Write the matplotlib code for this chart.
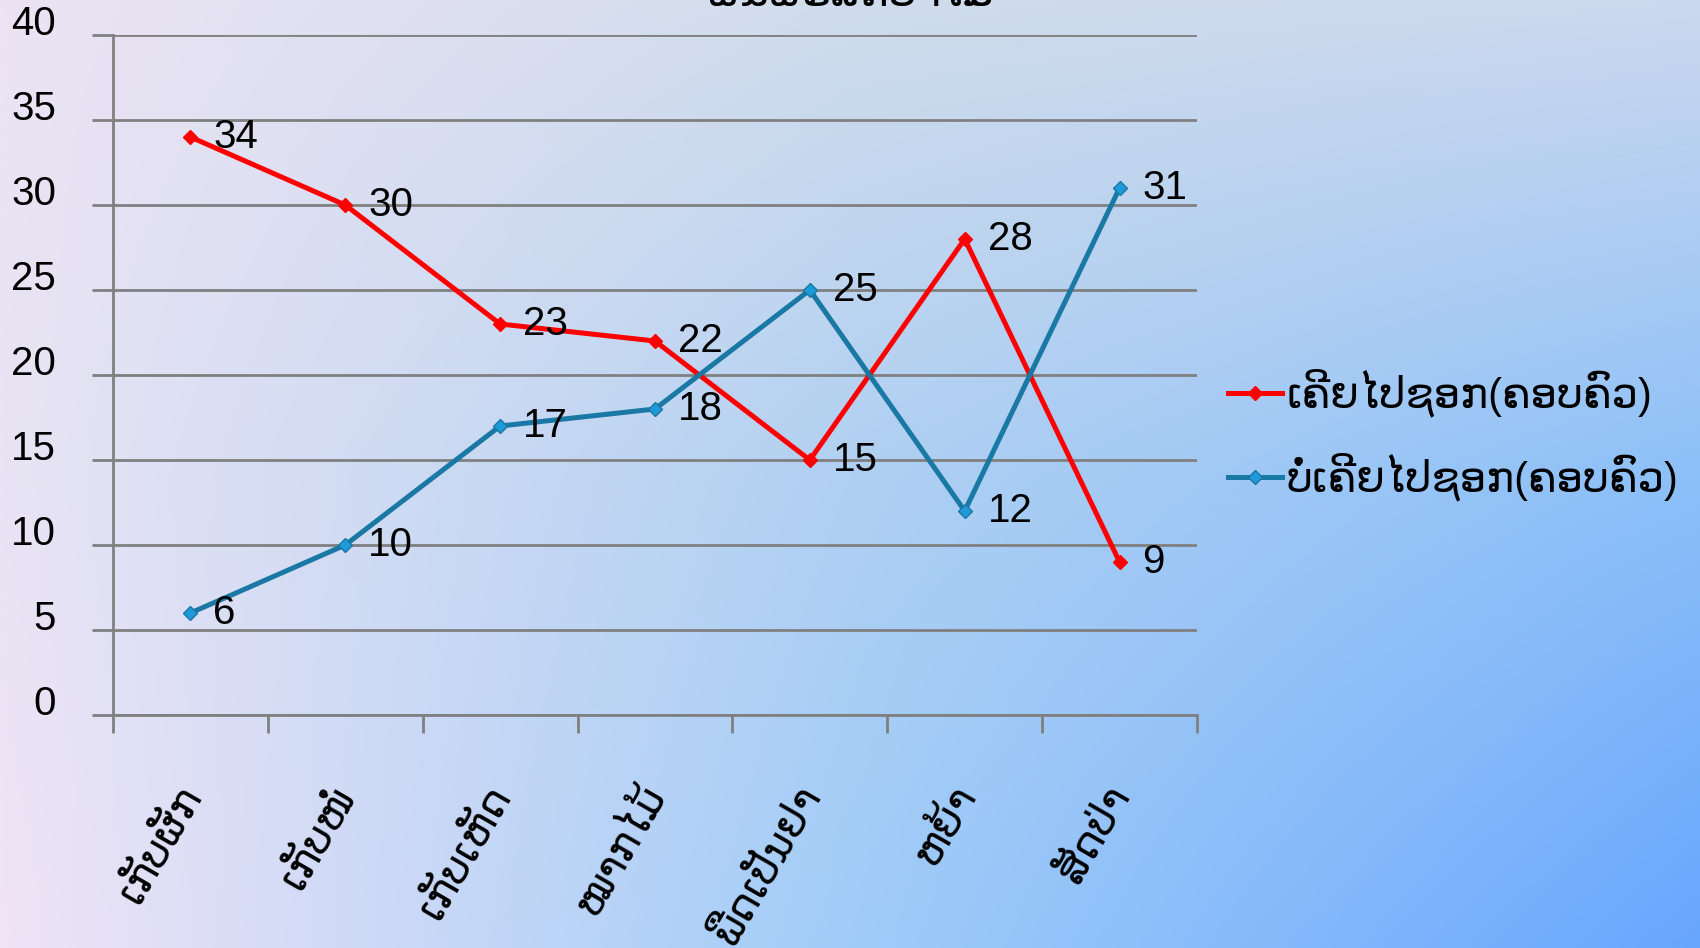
import numpy as np
import matplotlib
matplotlib.use("Agg")
import matplotlib.pyplot as plt
import matplotlib.transforms as mtransforms

plt.rcParams['font.family'] = ['Liberation Sans', 'DejaVu Sans']

# data
categories = ["ເກັບຜັກ", "ເກັບໜໍ່", "ເກັບເຫັດ", "ໝາກໄມ້", "ພືດເປັນຢາ", "ຫຍ້າ", "ສັດປ່າ"]
went = [34, 30, 23, 22, 15, 28, 9]
never_went = [6, 10, 17, 18, 25, 12, 31]
series_names = ["ເຄີຍໄປຊອກ(ຄອບຄົວ)", "ບໍ່ເຄີຍໄປຊອກ(ຄອບຄົວ)"]
title = "ຜົນຜະລິດປ່າໄມ້"
yticks = [0, 5, 10, 15, 20, 25, 30, 35, 40]

W, H = 1700, 948
fig = plt.figure(figsize=(W / 100, H / 100), dpi=100)

# background gradient (3x3 colour grid, bilinear)
grid = np.array([
    [[236, 228, 244], [208, 220, 236], [204, 216, 238]],
    [[232, 228, 244], [176, 208, 242], [140, 192, 248]],
    [[240, 228, 246], [160, 204, 248], [104, 166, 254]],
], dtype=float) / 255.0
ny, nx = 200, 360
gy = np.linspace(0, 2, ny)
gx = np.linspace(0, 2, nx)
iy = np.clip(gy.astype(int), 0, 1)
ix = np.clip(gx.astype(int), 0, 1)
fy = (gy - iy)[:, None, None]
fx = (gx - ix)[None, :, None]
c00 = grid[iy][:, ix]
c01 = grid[iy][:, ix + 1]
c10 = grid[iy + 1][:, ix]
c11 = grid[iy + 1][:, ix + 1]
img = (c00 * (1 - fx) * (1 - fy) + c01 * fx * (1 - fy)
       + c10 * (1 - fx) * fy + c11 * fx * fy)
bg = fig.add_axes([0, 0, 1, 1], zorder=-10)
bg.imshow(img, aspect='auto', extent=[0, 1, 0, 1], interpolation='bilinear')
bg.axis('off')

ax = fig.add_axes([113 / W, 1 - 715 / H, (1197 - 113) / W, (715 - 35) / H])
ax.patch.set_alpha(0)

fs = 29
x = np.arange(len(categories))
red = '#ff0000'
blue = '#1a78a4'
ax.plot(x, went, color=red, lw=3.6, marker='D', ms=7, mfc=red, mec=red,
        label=series_names[0], zorder=3)
ax.plot(x, never_went, color=blue, lw=3.6, marker='D', ms=7, mfc='#1e9ad8',
        mec='#1a78a4', label=series_names[1], zorder=3)

for xi, v in zip(x, went):
    ax.annotate(str(v), (xi, v), xytext=(23, 0), textcoords='offset pixels',
                va='center', ha='left', fontsize=fs, color='black')
for xi, v in zip(x, never_went):
    ax.annotate(str(v), (xi, v), xytext=(23, 0), textcoords='offset pixels',
                va='center', ha='left', fontsize=fs, color='black')

ax.set_xlim(-0.5, len(categories) - 0.5)
ax.set_ylim(0, 40)
ax.set_yticks(yticks)
ax.yaxis.grid(True, color='#808080', lw=2)
ax.set_axisbelow(True)
for s in ['top', 'right']:
    ax.spines[s].set_visible(False)
for s in ['left', 'bottom']:
    ax.spines[s].set_color('#808080')
    ax.spines[s].set_linewidth(2)
ax.tick_params(axis='y', length=15, width=2, color='#808080', pad=26,
               labelsize=fs)
for lab in ax.get_yticklabels():
    lab.set_va('baseline')

ax.set_xticks(np.arange(-0.5, len(categories), 1.0))
ax.set_xticklabels([])
ax.tick_params(axis='x', length=13, width=2, color='#808080')

# rotated category labels
trans = mtransforms.offset_copy(ax.get_xaxis_transform(), fig=fig,
                                x=-15, y=-64, units='dots')
for xi, c in zip(x, categories):
    ax.text(xi, 0, c, transform=trans, rotation=60, rotation_mode='anchor',
            ha='right', va='top', fontsize=30)

fig.legend(loc='center left', bbox_to_anchor=(1228 / W, 1 - 435 / H),
           frameon=False, fontsize=30, handlelength=1.3, handletextpad=0.1,
           labelspacing=0.85, borderpad=0, borderaxespad=0)

fig.text(851 / W, 1 - 6 / H, title, ha='center', va='baseline', fontsize=32)

fig.savefig('out.png', dpi=100)
